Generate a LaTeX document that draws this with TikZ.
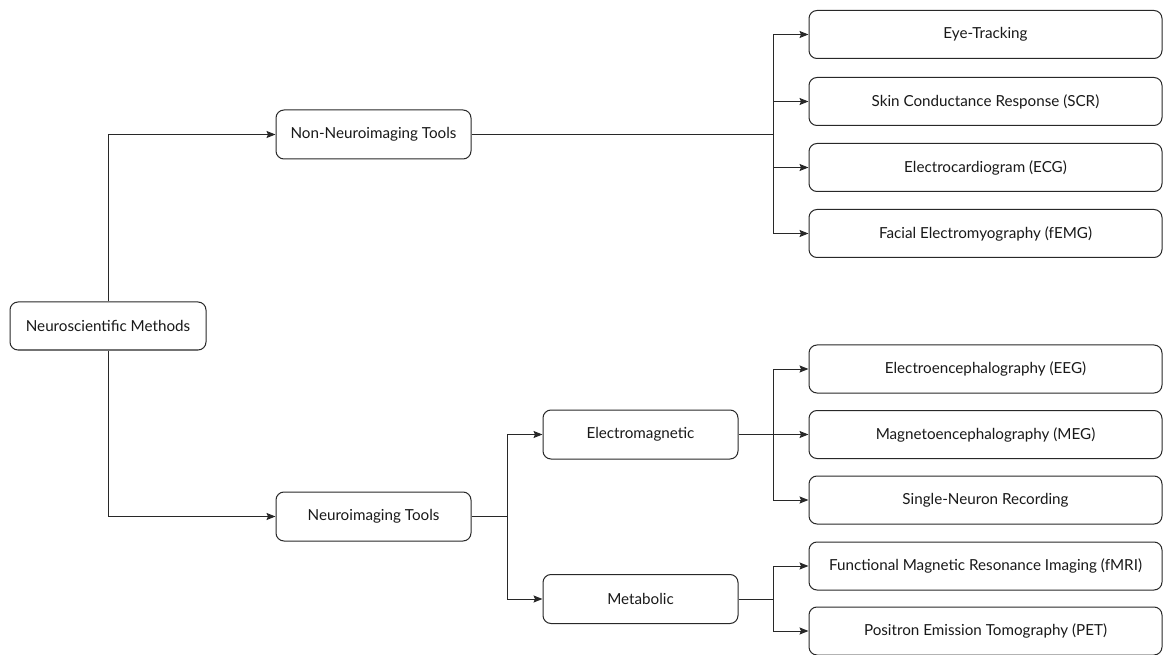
\documentclass[tikz,border=0pt]{standalone}
\usepackage{fontspec}
\setmainfont{Lato}
\usepackage{xcolor}
\usetikzlibrary{arrows.meta, positioning, calc}
\definecolor{linegray}{RGB}{40, 40, 40}
\definecolor{textgray}{RGB}{25, 25, 25}

\begin{document}
\begin{tikzpicture}[
    x=1pt, y=-1pt,
    box/.style={draw=linegray, line width=1pt, rounded corners=8pt, fill=white,
                inner sep=0pt, align=center, text=textgray,
                font=\fontsize{15.2}{18}\selectfont},
    rootbox/.style={box, minimum width=196pt, minimum height=48pt},
    midbox/.style={box, minimum width=195pt, minimum height=49pt},
    leafbox/.style={box, minimum width=353pt, minimum height=48pt},
    link/.style={draw=linegray, line width=1pt},
    arrow/.style={link, -{Stealth[length=9pt, width=7pt, inset=1.5pt]}}
]
    \useasboundingbox (0,0) rectangle (1163,655);

    % tree nodes
    \node[rootbox] (methods) at (108,326) {Neuroscientific Methods};
    \node[midbox] (nonneuro) at (373.5,134.5) {Non-Neuroimaging Tools};
    \node[midbox] (neuro) at (373.5,516.5) {Neuroimaging Tools};
    \node[midbox] (electro) at (640.5,434.5) {Electromagnetic};
    \node[midbox] (metab) at (640.5,599) {Metabolic};

    % leaf column
    \node[leafbox] (eye) at (985.5,34.5) {Eye-Tracking};
    \node[leafbox] (scr) at (985.5,101.5) {Skin Conductance Response (SCR)};
    \node[leafbox] (ecg) at (985.5,167.5) {Electrocardiogram (ECG)};
    \node[leafbox] (femg) at (985.5,233.5) {Facial Electromyography (fEMG)};
    \node[leafbox] (eeg) at (985.5,369) {Electroencephalography (EEG)};
    \node[leafbox] (meg) at (985.5,434.5) {Magnetoencephalography (MEG)};
    \node[leafbox] (single) at (985.5,500) {Single-Neuron Recording};
    \node[leafbox] (fmri) at (985.5,566) {Functional Magnetic Resonance Imaging (fMRI)};
    \node[leafbox] (pet) at (985.5,631) {Positron Emission Tomography (PET)};

    % junction points
    \coordinate (jnon) at (773,134.5);
    \coordinate (jneuro) at (507,516.5);
    \coordinate (jelec) at (773,434.5);
    \coordinate (jmeta) at (773,599);

    % connectors
    \draw[arrow] (methods.north) |- (nonneuro.west);
    \draw[arrow] (methods.south) |- (neuro.west);

    \draw[link] (nonneuro.east) -- (jnon);
    \foreach \leaf in {eye, scr, ecg, femg}
        \draw[arrow] (jnon) |- (\leaf.west);

    \draw[link] (neuro.east) -- (jneuro);
    \draw[arrow] (jneuro) |- (electro.west);
    \draw[arrow] (jneuro) |- (metab.west);

    \draw[link] (electro.east) -- (jelec);
    \foreach \leaf in {eeg, meg, single}
        \draw[arrow] (jelec) |- (\leaf.west);

    \draw[link] (metab.east) -- (jmeta);
    \foreach \leaf in {fmri, pet}
        \draw[arrow] (jmeta) |- (\leaf.west);
\end{tikzpicture}
\end{document}
